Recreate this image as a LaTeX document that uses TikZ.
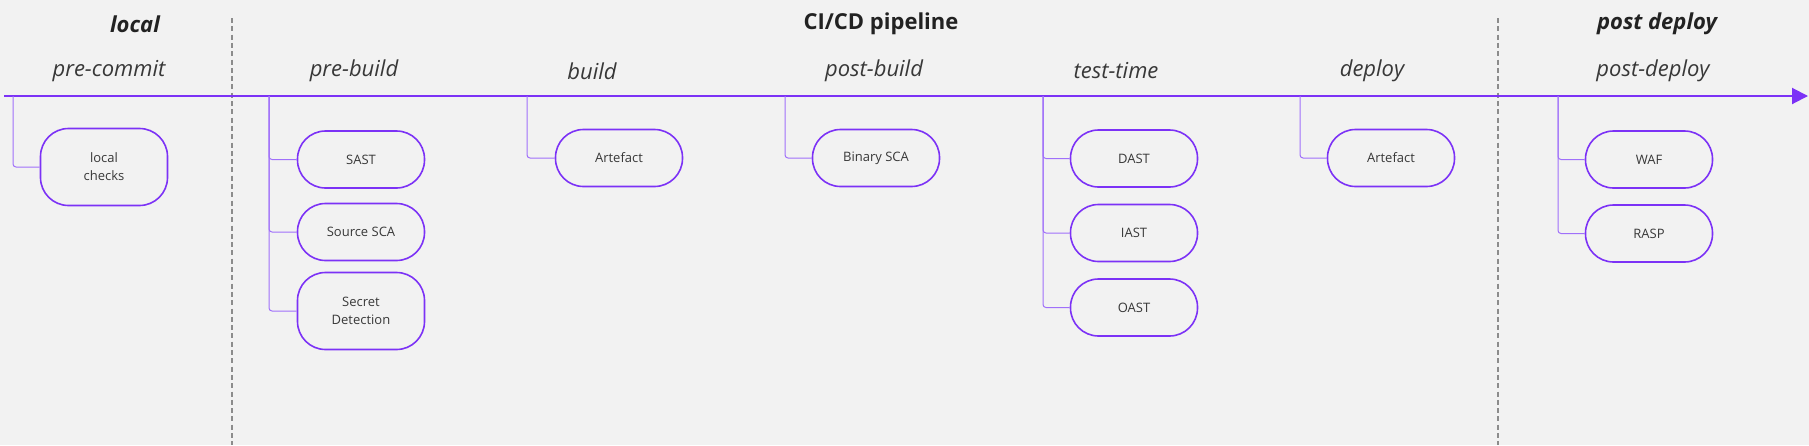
\documentclass[tikz,border=0pt]{standalone}
\usepackage{fontspec}
\setmainfont{Open Sans}
\usetikzlibrary{arrows.meta}
\definecolor{pipepurple}{RGB}{124,50,246}
\definecolor{stempurple}{RGB}{160,112,250}
\definecolor{bgcol}{RGB}{242,242,242}
\definecolor{inkcol}{RGB}{34,34,34}

\begin{document}
\begin{tikzpicture}[x=1pt, y=-1pt, >={Triangle[length=16pt,width=16pt]},
  phasehead/.style={font=\fontsize{22}{26}\selectfont\bfseries, text=inkcol},
  stagehead/.style={font=\fontsize{22}{26}\selectfont\itshape, text=inkcol!90},
  checkbox/.style={draw=pipepurple, line width=1.6pt, rounded corners=28pt,
    minimum width=127pt, minimum height=57pt, align=center, inner sep=2pt,
    font=\fontsize{13}{18}\selectfont, text=inkcol!90},
  tallbox/.style={checkbox, minimum height=77pt},
  stemline/.style={draw=stempurple, line width=1pt, rounded corners=3pt},
  divider/.style={draw=gray!90, line width=1.2pt, dash pattern=on 5pt off 3.3pt}]
% background and page size
\fill[bgcol] (0,0) rectangle (1809,445);
\useasboundingbox (0,0) rectangle (1809,445);
% phase dividers
\draw[divider] (232,18) -- (232,445);
\draw[divider] (1498,18) -- (1498,445);
% phase titles
\node[phasehead, font=\fontsize{22}{26}\selectfont\bfseries\itshape] (local) at (135,24) {local};
\node[phasehead] (cicd) at (881,24) {CI/CD pipeline};
\node[phasehead, font=\fontsize{22}{26}\selectfont\bfseries\itshape] (postdep) at (1657,24) {post deploy};
% timeline
\coordinate (tl start) at (4,96);
\coordinate (tl end) at (1808,96);
\draw[->, draw=pipepurple, line width=2pt] (tl start) -- (tl end);
% stages: stem x, label x, name, label
\foreach \sx/\lx/\nm/\lbl in {13/109/precommit/pre-commit, 269/354/prebuild/pre-build,
    527/592/build/build, 785/874/postbuild/post-build, 1043/1116/testtime/test-time,
    1300/1372/deploy/deploy, 1558/1653/postdeploy/post-deploy}{
  \node[stagehead] (\nm-lbl) at (\lx,71) {\lbl};
  \coordinate (\nm-stem) at (\sx,96);
}
% checks
\node[tallbox] (localchk) at (104,167) {local\\checks};
\node[checkbox] (sast) at (361,159.5) {SAST};
\node[checkbox] (srcsca) at (361,232) {Source SCA};
\node[tallbox] (secret) at (361,311) {Secret\\Detection};
\node[checkbox] (artbuild) at (619,158) {Artefact};
\node[checkbox] (binsca) at (876,158) {Binary SCA};
\node[checkbox] (dast) at (1134,158.5) {DAST};
\node[checkbox] (iast) at (1134,233) {IAST};
\node[checkbox] (oast) at (1134,307.5) {OAST};
\node[checkbox] (artdeploy) at (1391,158) {Artefact};
\node[checkbox] (waf) at (1649,159.5) {WAF};
\node[checkbox] (rasp) at (1649,233.5) {RASP};
% stems
\draw[stemline] (precommit-stem) |- (localchk.west);
\foreach \b in {sast,srcsca,secret}{\draw[stemline] (prebuild-stem) |- (\b.west);}
\draw[stemline] (build-stem) |- (artbuild.west);
\draw[stemline] (postbuild-stem) |- (binsca.west);
\foreach \b in {dast,iast,oast}{\draw[stemline] (testtime-stem) |- (\b.west);}
\draw[stemline] (deploy-stem) |- (artdeploy.west);
\foreach \b in {waf,rasp}{\draw[stemline] (postdeploy-stem) |- (\b.west);}
\end{tikzpicture}
\end{document}
